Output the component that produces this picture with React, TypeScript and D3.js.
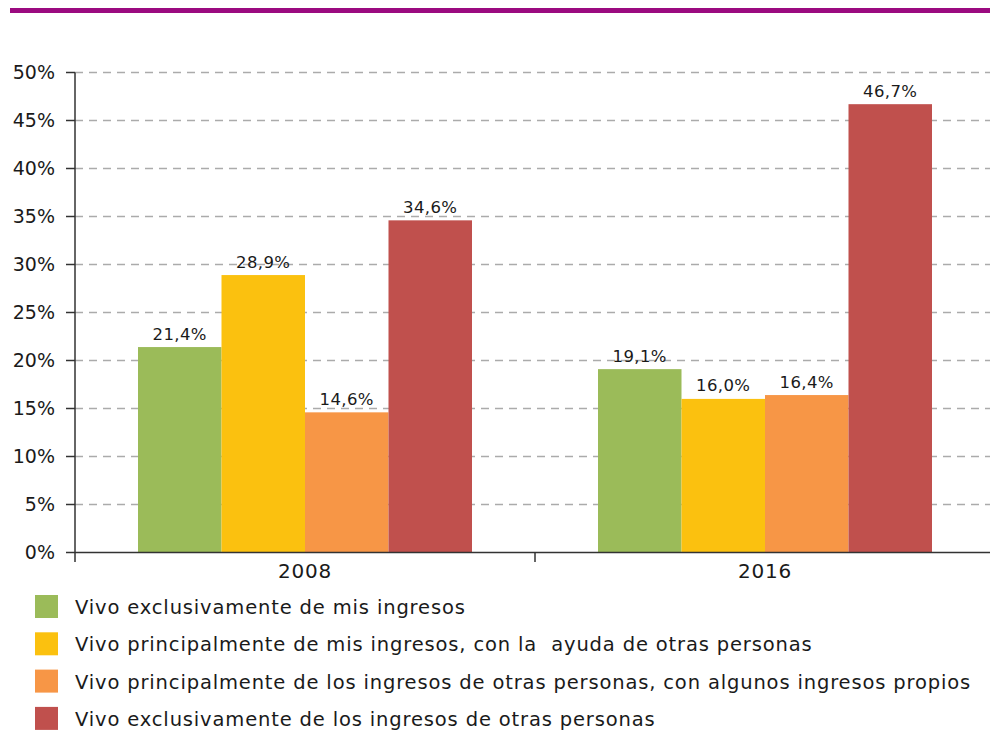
import React from "react";
import * as d3 from "d3";

const years = ["2008", "2016"];
const seriesNames = [
  "Vivo exclusivamente de mis ingresos",
  "Vivo principalmente de mis ingresos, con la  ayuda de otras personas",
  "Vivo principalmente de los ingresos de otras personas, con algunos ingresos propios",
  "Vivo exclusivamente de los ingresos de otras personas",
];
const values2008 = [21.4, 28.9, 14.6, 34.6];
const values2016 = [19.1, 16.0, 16.4, 46.7];
const valueLabels2008 = ["21,4%", "28,9%", "14,6%", "34,6%"];
const valueLabels2016 = ["19,1%", "16,0%", "16,4%", "46,7%"];
const yTicks = [0, 5, 10, 15, 20, 25, 30, 35, 40, 45, 50];
const colors = ["#9BBB59", "#FBC10F", "#F79646", "#C0504D"];

const W = 990;
const H = 730;
const FONT = "'DejaVu Sans', sans-serif";

export default function App() {
  const left = 75;
  const x0 = d3.scaleBand<string>().domain(years).range([left, left + 920]).padding(0);
  const x1 = d3
    .scaleBand<number>()
    .domain(d3.range(seriesNames.length))
    .range([63, 397])
    .padding(0);
  const y = d3.scaleLinear().domain([0, 50]).range([552.5, 72.5]);

  const data = [
    { year: years[0], vals: values2008, labels: valueLabels2008 },
    { year: years[1], vals: values2016, labels: valueLabels2016 },
  ];

  return (
    <svg
      width={W}
      height={H}
      style={{ position: "absolute", left: 0, top: 0, background: "#fff" }}
    >
      <rect x={10} y={8} width={980} height={5} fill="#9B0A80" />
      {yTicks.slice(1).map((t) => (
        <line
          key={"g" + t}
          x1={left}
          x2={W}
          y1={y(t)}
          y2={y(t)}
          stroke="#ABABAB"
          strokeWidth={1.5}
          strokeDasharray="8,6"
        />
      ))}
      {data.map((d) => (
        <g key={d.year} transform={`translate(${x0(d.year)},0)`}>
          {d.vals.map((v, i) => (
            <rect
              key={i}
              x={x1(i)}
              y={y(v)}
              width={x1.bandwidth()}
              height={y(0) - y(v)}
              fill={colors[i]}
            />
          ))}
          {d.vals.map((v, i) => (
            <text
              key={"t" + i}
              x={(x1(i) as number) + x1.bandwidth() / 2}
              y={y(v) - 7.5}
              textAnchor="middle"
              fontFamily={FONT}
              fontSize={16.5}
              letterSpacing={0.4}
              fill="#1a1a1a"
            >
              {d.labels[i]}
            </text>
          ))}
        </g>
      ))}
      <line x1={left} x2={left} y1={72.5} y2={562} stroke="#333" strokeWidth={1.5} />
      {yTicks.map((t) => (
        <g key={"y" + t}>
          <line x1={66} x2={left} y1={y(t)} y2={y(t)} stroke="#333" strokeWidth={1.5} />
          <text
            x={55}
            y={y(t)}
            dy="0.36em"
            textAnchor="end"
            fontFamily={FONT}
            fontSize={19}
            fill="#1a1a1a"
          >
            {t}%
          </text>
        </g>
      ))}
      <line x1={left} x2={W} y1={y(0)} y2={y(0)} stroke="#333" strokeWidth={1.5} />
      {years.slice(1).map((yr) => (
        <line
          key={"xt" + yr}
          x1={x0(yr)}
          x2={x0(yr)}
          y1={y(0)}
          y2={562}
          stroke="#333"
          strokeWidth={1.5}
        />
      ))}
      {years.map((yr) => (
        <text
          key={"xl" + yr}
          x={(x0(yr) as number) + x0.bandwidth() / 2}
          y={578}
          textAnchor="middle"
          fontFamily={FONT}
          fontSize={20}
          letterSpacing={0.8}
          fill="#1a1a1a"
        >
          {yr}
        </text>
      ))}
      {seriesNames.map((s, i) => (
        <g key={"l" + i} transform={`translate(35,${595 + i * 37.3})`}>
          <rect x={0} y={0} width={23} height={23} fill={colors[i]} />
          <text
            x={40}
            y={19}
            fontFamily={FONT}
            fontSize={19.5}
            letterSpacing={0.85}
            fill="#1a1a1a"
            xmlSpace="preserve"
          >
            {s}
          </text>
        </g>
      ))}
    </svg>
  );
}
